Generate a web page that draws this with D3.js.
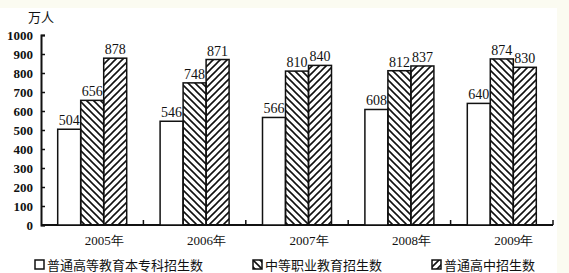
<!DOCTYPE html>
<html>
<head>
<meta charset="utf-8">
<script src="https://cdn.jsdelivr.net/npm/d3@7"></script>
<style>
  body { margin: 0; background: #fbfbf1; }
  svg { display: block; }
</style>
</head>
<body>
<div id="graf"></div>
<script>
// datos
anios = ['2005年', '2006年', '2007年', '2008年', '2009年']
superior = [504, 546, 566, 608, 640]
media = [656, 748, 810, 812, 874]
bachillerato = [878, 871, 840, 837, 830]
series = ['普通高等教育本专科招生数', '中等职业教育招生数', '普通高中招生数']
yTicks = [0, 100, 200, 300, 400, 500, 600, 700, 800, 900, 1000]

valores = [superior, media, bachillerato]
rellenos = ['#fff', 'url(#back)', 'url(#fwd)']

ancho_total = 569
alto_total = 273

svg = d3.select('#graf').append('svg')
  .attr('width', ancho_total)
  .attr('height', alto_total)

// fondo
svg.append('rect')
  .attr('x', 0).attr('y', 8)
  .attr('width', 557).attr('height', alto_total - 8)
  .attr('fill', '#fff')

// patrones de rayado
defs = svg.append('defs')
defs.append('pattern')
  .attr('id', 'back')
  .attr('patternUnits', 'userSpaceOnUse')
  .attr('width', 7).attr('height', 7)
  .append('path')
  .attr('d', 'M0,0 L7,7 M-1,6 L1,8 M6,-1 L8,1')
  .attr('stroke', '#111').attr('stroke-width', 1.6)
defs.append('pattern')
  .attr('id', 'fwd')
  .attr('patternUnits', 'userSpaceOnUse')
  .attr('width', 7).attr('height', 7)
  .append('path')
  .attr('d', 'M0,7 L7,0 M-1,1 L1,-1 M6,8 L8,6')
  .attr('stroke', '#111').attr('stroke-width', 1.6)

// escaladores
x0 = d3.scaleBand().domain(anios).range([41, 553]).padding(0)
x1 = d3.scaleBand().domain(series).range([0, 69]).padding(0)
y = d3.scaleLinear().domain([0, 1000]).range([225, 35])

serif = '"Liberation Serif", "Times New Roman", serif'
cjk = '"Noto Sans CJK SC", sans-serif'

// eje y
yAxis = d3.axisRight(y).tickValues(yTicks).tickSize(4).tickFormat('')
gy = svg.append('g').attr('transform', 'translate(41,0)').call(yAxis)
gy.select('.domain').attr('stroke', '#111').attr('stroke-width', 2)
gy.selectAll('.tick line').attr('stroke', '#111').attr('stroke-width', 1.5)

svg.selectAll('.ylab')
  .data(yTicks)
  .enter().append('text')
  .attr('class', 'ylab')
  .attr('x', 33)
  .attr('y', d => y(d) + 5)
  .attr('text-anchor', 'end')
  .attr('font-family', serif)
  .attr('font-weight', 'bold')
  .attr('font-size', '13px')
  .attr('fill', '#111')
  .text(d => d)

svg.append('text')
  .attr('x', 28).attr('y', 22)
  .attr('font-family', cjk)
  .attr('font-size', '13px')
  .attr('fill', '#111')
  .text('万人')

// eje x
svg.append('line')
  .attr('x1', 41).attr('x2', 553)
  .attr('y1', y(0)).attr('y2', y(0))
  .attr('stroke', '#111').attr('stroke-width', 2)

svg.selectAll('.xtick')
  .data(anios)
  .enter().append('line')
  .attr('class', 'xtick')
  .attr('x1', d => x0(d) + x0.bandwidth())
  .attr('x2', d => x0(d) + x0.bandwidth())
  .attr('y1', y(0)).attr('y2', y(0) - 5)
  .attr('stroke', '#111').attr('stroke-width', 1.5)

svg.selectAll('.xlab')
  .data(anios)
  .enter().append('text')
  .attr('class', 'xlab')
  .attr('x', d => x0(d) + x0.bandwidth() / 2 + 12)
  .attr('y', 245)
  .attr('text-anchor', 'middle')
  .attr('font-family', serif)
  .attr('font-size', '13px')
  .attr('fill', '#111')
  .text(d => d)

// barras
desplaza = (x0.bandwidth() - 69) / 2
series.forEach((s, i) => {
  g = svg.append('g')
  g.selectAll('rect')
    .data(anios)
    .enter().append('rect')
    .attr('x', d => x0(d) + desplaza + x1(s))
    .attr('y', (d, j) => y(valores[i][j]))
    .attr('width', x1.bandwidth())
    .attr('height', (d, j) => y(0) - y(valores[i][j]))
    .attr('fill', rellenos[i])
    .attr('stroke', '#111')
    .attr('stroke-width', 1.5)
  g.selectAll('text')
    .data(anios)
    .enter().append('text')
    .attr('x', d => x0(d) + desplaza + x1(s) + x1.bandwidth() / 2)
    .attr('y', (d, j) => y(valores[i][j]) - 4)
    .attr('text-anchor', 'middle')
    .attr('font-family', serif)
    .attr('font-size', '14px')
    .attr('fill', '#111')
    .text((d, j) => valores[i][j])
})

// leyenda
leyX = [35, 253, 432]
ley = svg.selectAll('.ley')
  .data(series)
  .enter().append('g')
  .attr('class', 'ley')
  .attr('transform', (d, i) => `translate(${leyX[i]}, 260)`)
ley.append('rect')
  .attr('width', 9).attr('height', 9)
  .attr('fill', (d, i) => rellenos[i])
  .attr('stroke', '#111').attr('stroke-width', 1.5)
ley.append('text')
  .attr('x', 12).attr('y', 10)
  .attr('font-family', cjk)
  .attr('font-size', '13px')
  .attr('fill', '#111')
  .text(d => d)
</script>
</body>
</html>
